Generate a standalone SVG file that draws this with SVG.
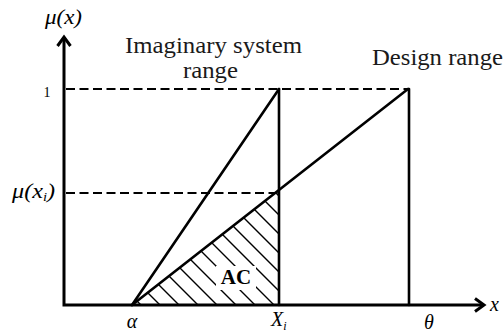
<svg xmlns="http://www.w3.org/2000/svg" width="504" height="332" viewBox="0 0 504 332">
<style>
.ax{stroke:#000;stroke-width:3;fill:none}
.ln{stroke:#000;stroke-width:2.6;fill:none;stroke-linecap:round}
.dash{stroke:#000;stroke-width:2;fill:none;stroke-dasharray:9 4.5}
.hatch{stroke:#000;stroke-width:1.4;fill:none}
.lbl{font-family:"Liberation Serif",serif;font-size:24px;fill:#1a1a1a}
.math{font-family:"Liberation Serif",serif;font-style:italic;font-size:20px;fill:#000}
.num{font-family:"Liberation Serif",serif;font-size:14px;fill:#000}
.ac{font-family:"Liberation Serif",serif;font-weight:bold;font-size:21px;fill:#000}
</style>
<defs>
<clipPath id="tri"><polygon points="132,305 279,305 279,189.5"/></clipPath>
</defs>
<rect width="504" height="332" fill="#fff"/>
<g id="hatching" clip-path="url(#tri)">
<path class="hatch" d="M120 37L300 217M120 56L300 236M120 75L300 255M120 94L300 274M120 113L300 293M120 132L300 312M120 151L300 331M120 170L300 350M120 189L300 369M120 208L300 388M120 227L300 407M120 246L300 426M120 265L300 445M120 284L300 464"/>
<rect x="216" y="266" width="40" height="24" fill="#fff"/>
</g>
<g id="connectors">
<path class="dash" d="M66 89H408"/>
<path class="dash" d="M66 193H279"/>
<path class="ln" d="M132 305L279 89"/>
<path class="ln" d="M132 305L408 89"/>
<path class="ln" d="M279 89V305"/>
<path class="ln" d="M409 89V305"/>
</g>
<g id="axes">
<path class="ax" d="M64 37V305H484"/>
<path class="ax" stroke-linejoin="miter" d="M57.5 46L64 37L70.5 46"/>
<path class="ax" stroke-linejoin="miter" d="M475 298.5L484 305L475 311.5"/>
</g>
<g id="labels">
<text class="math" x="45" y="24" textLength="37" lengthAdjust="spacingAndGlyphs" font-size="18">μ(x)</text>
<text class="num" x="47" y="97" text-anchor="middle">1</text>
<text class="math" x="12" y="198" textLength="43" lengthAdjust="spacingAndGlyphs" font-size="19">μ(x<tspan font-size="12" dy="3">i</tspan><tspan dy="-3">)</tspan></text>
<text class="math" x="132" y="328" text-anchor="middle">α</text>
<text class="math" x="271" y="326">X<tspan font-size="12" dy="4">i</tspan></text>
<text class="math" x="429" y="329" text-anchor="middle">θ</text>
<text class="math" x="490" y="311">x</text>
<text class="ac" x="236" y="284" text-anchor="middle">AC</text>
</g>
<g id="imaginary">
<text class="lbl" x="125" y="53" textLength="177" lengthAdjust="spacingAndGlyphs">Imaginary system</text>
<text class="lbl" x="183" y="78" textLength="55" lengthAdjust="spacingAndGlyphs">range</text>
</g>
<g id="design">
<text class="lbl" x="372" y="65" textLength="131" lengthAdjust="spacingAndGlyphs">Design range</text>
</g>
</svg>
